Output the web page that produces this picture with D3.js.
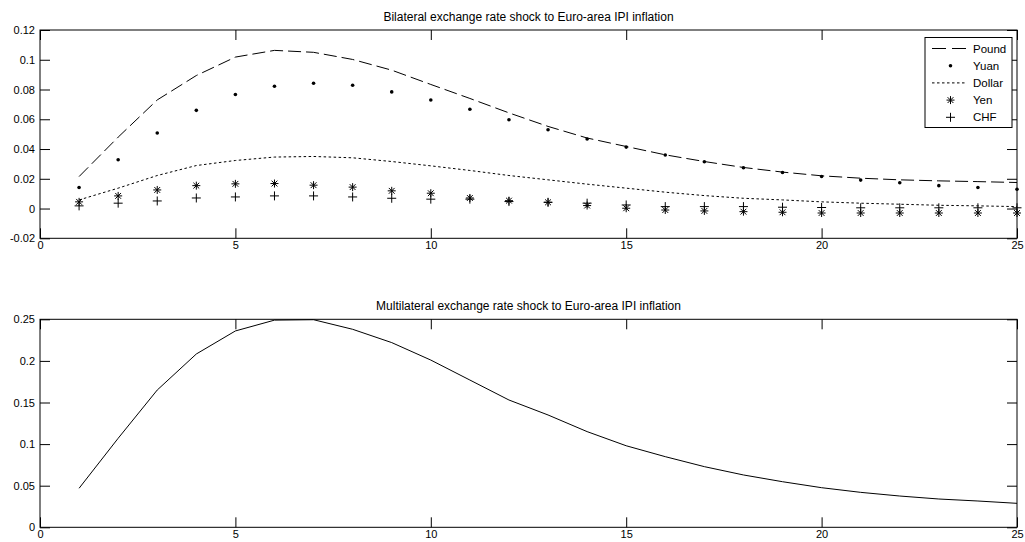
<!DOCTYPE html>
<html>
<head>
<meta charset="utf-8">
<script src="https://cdn.jsdelivr.net/npm/d3@7"></script>
<style>
    body { margin: 0; background: #fff; }
    svg { display: block; font-family: 'Liberation Sans', Arial, sans-serif; }
</style>
</head>
<body>
<div id="chart"></div>
<script>
// horizon 1..25
const periods = d3.range(1, 26)
const xTicks = [0, 5, 10, 15, 20, 25]

// top panel: bilateral shocks
const topTitle = 'Bilateral exchange rate shock to Euro-area IPI inflation'
const topYTicks = [-0.02, 0, 0.02, 0.04, 0.06, 0.08, 0.1, 0.12]
const pound = [0.0215, 0.048, 0.073, 0.0894, 0.1018, 0.1063, 0.105, 0.1002, 0.093, 0.0834, 0.074, 0.0643, 0.0552,
    0.0474, 0.0417, 0.0361, 0.0316, 0.0276, 0.0245, 0.022, 0.0204, 0.0193, 0.0186, 0.0181, 0.0175]
const yuan = [0.0141, 0.0328, 0.0508, 0.066, 0.0766, 0.0822, 0.0842, 0.0829, 0.0784, 0.073, 0.0667, 0.0597, 0.053,
    0.0467, 0.0413, 0.036, 0.0314, 0.0274, 0.0242, 0.0215, 0.0191, 0.0173, 0.0154, 0.0141, 0.013]
const dollar = [0.0058, 0.0137, 0.0222, 0.0289, 0.0323, 0.0346, 0.035, 0.0341, 0.0316, 0.0287, 0.0256, 0.0222, 0.0193,
    0.0164, 0.0137, 0.011, 0.0087, 0.0069, 0.0058, 0.0045, 0.0036, 0.0029, 0.0022, 0.0018, 0.0013]
const yen = [0.0045, 0.0085, 0.0125, 0.0154, 0.0166, 0.0168, 0.0157, 0.0144, 0.0119, 0.0103, 0.0071, 0.0053, 0.0042,
    0.002, 0.0002, -0.001, -0.0016, -0.0021, -0.0025, -0.003, -0.003, -0.003, -0.003, -0.003, -0.003]
const chf = [0.0018, 0.0036, 0.0051, 0.0071, 0.0078, 0.0085, 0.0085, 0.0078, 0.0069, 0.0063, 0.0063, 0.0047, 0.0042,
    0.0036, 0.0024, 0.0013, 0.0013, 0.0013, 0.0009, 0.0007, 0.0005, 0.0005, 0.0005, 0.0005, 0.0005]
const legendNames = ['Pound', 'Yuan', 'Dollar', 'Yen', 'CHF']

// bottom panel: multilateral shock
const bottomTitle = 'Multilateral exchange rate shock to Euro-area IPI inflation'
const bottomYTicks = [0, 0.05, 0.1, 0.15, 0.2, 0.25]
const multilateral = [0.0469, 0.107, 0.165, 0.2083, 0.236, 0.249, 0.2495, 0.238, 0.222, 0.201, 0.177, 0.153, 0.135,
    0.115, 0.098, 0.0849, 0.0729, 0.0629, 0.0548, 0.0476, 0.042, 0.0376, 0.034, 0.0316, 0.0288]

const width = 1025
const height = 542
const svg = d3.select('#chart').append('svg').attr('width', width).attr('height', height)

const x = d3.scaleLinear().domain([0, 25]).range([40, 1017])

// 패널 그리기 (axes box + matlab style inward ticks)
const drawPanel = (top, bottom, yDomain, yTicks, title, yFmt) => {
    const y = d3.scaleLinear().domain(yDomain).range([bottom, top])
    const g = svg.append('g')

    const gx = g.append('g').attr('transform', `translate(0, ${bottom})`)
        .call(d3.axisBottom(x).tickValues(xTicks).tickSize(-10).tickPadding(3).tickFormat(d3.format('d')))
    const gxTop = g.append('g').attr('transform', `translate(0, ${top})`)
        .call(d3.axisTop(x).tickValues(xTicks).tickSize(-10).tickFormat(''))
    const gy = g.append('g').attr('transform', `translate(40, 0)`)
        .call(d3.axisLeft(y).tickValues(yTicks).tickSize(-10).tickPadding(5).tickFormat(yFmt))
    const gyRight = g.append('g').attr('transform', `translate(1017, 0)`)
        .call(d3.axisRight(y).tickValues(yTicks).tickSize(-10).tickFormat(''))

    ;[gx, gxTop, gy, gyRight].forEach((a) => {
        a.select('.domain').remove()
        a.selectAll('line').attr('stroke', '#000')
        a.selectAll('text').attr('fill', '#000').style('font-size', '11px')
            .style('font-family', "'Liberation Sans', Arial, sans-serif")
    })

    g.append('rect')
        .attr('x', 40).attr('y', top)
        .attr('width', 977).attr('height', bottom - top)
        .attr('fill', 'none').attr('stroke', '#000').attr('stroke-width', 1)

    g.append('text')
        .attr('x', (40 + 1017) / 2).attr('y', top - 9)
        .attr('text-anchor', 'middle')
        .style('font-size', '12px')
        .text(title)

    return { g, y }
}

const fmtTop = (d) => (d === 0 ? '0' : String(+d.toFixed(2)))
const topPanel = drawPanel(30, 238.3, [-0.02, 0.12], topYTicks, topTitle, fmtTop)
const bottomPanel = drawPanel(319.3, 527.3, [0, 0.25], bottomYTicks, bottomTitle, fmtTop)

// 마커 모양
const drawMarker = (sel, type, cx, cy) => {
    if (type === 'dot') {
        sel.append('circle').attr('cx', cx).attr('cy', cy).attr('r', 1.8).attr('fill', '#000')
    } else if (type === 'plus') {
        sel.append('path').attr('d', `M${cx - 4.5},${cy}H${cx + 4.5}M${cx},${cy - 4.5}V${cy + 4.5}`)
            .attr('stroke', '#000').attr('stroke-width', 1).attr('fill', 'none')
    } else if (type === 'star') {
        const r = 4, d = 2.9
        sel.append('path')
            .attr('d', `M${cx - r},${cy}H${cx + r}M${cx},${cy - r}V${cy + r}` +
                `M${cx - d},${cy - d}L${cx + d},${cy + d}M${cx - d},${cy + d}L${cx + d},${cy - d}`)
            .attr('stroke', '#000').attr('stroke-width', 1).attr('fill', 'none')
    }
}

const lineTop = d3.line().x((d, i) => x(periods[i])).y((d) => topPanel.y(d))

topPanel.g.append('path').datum(pound).attr('d', lineTop)
    .attr('fill', 'none').attr('stroke', '#000').attr('stroke-width', 1).attr('stroke-dasharray', '13,5')
topPanel.g.append('path').datum(dollar).attr('d', lineTop)
    .attr('fill', 'none').attr('stroke', '#000').attr('stroke-width', 1).attr('stroke-dasharray', '2.5,2.5')

const markerSeries = [[yuan, 'dot'], [yen, 'star'], [chf, 'plus']]
markerSeries.forEach(([vals, type]) => {
    const mg = topPanel.g.append('g')
    vals.forEach((v, i) => drawMarker(mg, type, x(periods[i]), topPanel.y(v)))
})

// 범례
const legend = svg.append('g')
legend.append('rect').attr('x', 925).attr('y', 37.5).attr('width', 87).attr('height', 90)
    .attr('fill', '#fff').attr('stroke', '#000').attr('stroke-width', 1)
const legendStyle = ['dash', 'dot', 'dotted', 'star', 'plus']
legendNames.forEach((name, i) => {
    const ly = 48.5 + i * 17.2
    const s = legendStyle[i]
    if (s === 'dash') {
        legend.append('line').attr('x1', 932).attr('x2', 967).attr('y1', ly).attr('y2', ly)
            .attr('stroke', '#000').attr('stroke-dasharray', '14,6')
    } else if (s === 'dotted') {
        legend.append('line').attr('x1', 932).attr('x2', 967).attr('y1', ly).attr('y2', ly)
            .attr('stroke', '#000').attr('stroke-dasharray', '2.5,2.5')
    } else {
        drawMarker(legend, s, 950.5, ly)
    }
    legend.append('text').attr('x', 973).attr('y', ly + 4)
        .style('font-size', '11.5px').text(name)
})

// bottom line
const lineBottom = d3.line().x((d, i) => x(periods[i])).y((d) => bottomPanel.y(d))
bottomPanel.g.append('path').datum(multilateral).attr('d', lineBottom)
    .attr('fill', 'none').attr('stroke', '#000').attr('stroke-width', 1)
</script>
</body>
</html>
